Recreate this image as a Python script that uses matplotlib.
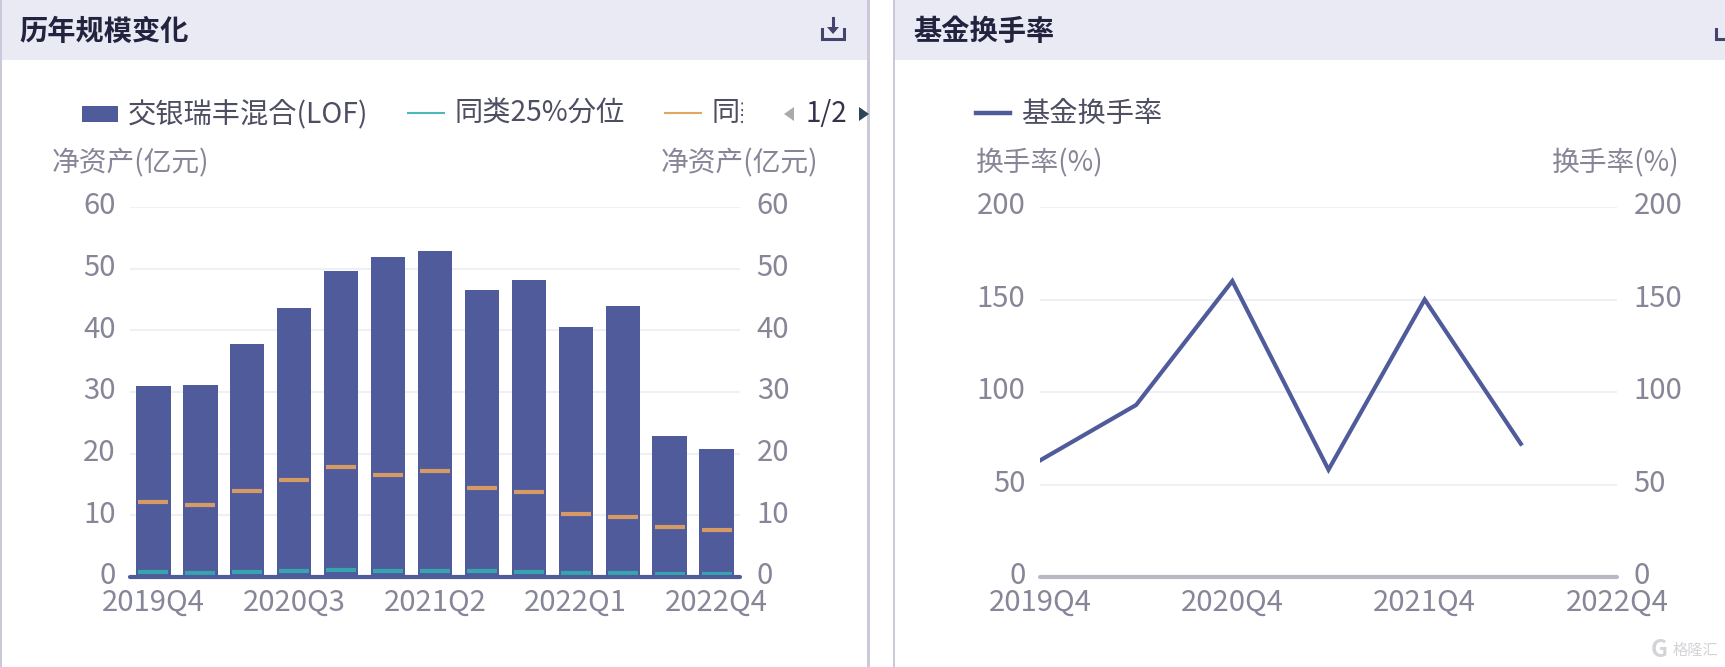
import matplotlib
matplotlib.use("Agg")
import matplotlib.pyplot as plt
from matplotlib.patches import Rectangle, Polygon
from matplotlib.transforms import ScaledTranslation

# ttc里matplotlib只认第一个字形集，名字是JP
plt.rcParams['font.family'] = 'sans-serif'
plt.rcParams['font.sans-serif'] = ['Noto Sans CJK JP', 'Noto Sans CJK SC', 'DejaVu Sans']
plt.rcParams['axes.unicode_minus'] = False

# 历年规模变化
quarters = ["2019Q4", "2020Q1", "2020Q2", "2020Q3", "2020Q4", "2021Q1", "2021Q2",
            "2021Q3", "2021Q4", "2022Q1", "2022Q2", "2022Q3", "2022Q4"]
fund_size = [31.0, 31.2, 37.8, 43.7, 49.6, 51.9, 52.8, 46.6, 48.2, 40.5, 43.9, 22.9, 20.8]
peer_median = [12.2, 11.6, 13.9, 15.7, 17.8, 16.5, 17.2, 14.4, 13.8, 10.2, 9.7, 8.1, 7.6]
peer_q25 = [0.8, 0.7, 0.8, 1.0, 1.1, 0.9, 1.0, 0.9, 0.8, 0.6, 0.6, 0.5, 0.5]
size_ticks = [0, 10, 20, 30, 40, 50, 60]

# 基金换手率
half_years = ["2019Q4", "2020Q2", "2020Q4", "2021Q2", "2021Q4", "2022Q2", "2022Q4"]
turnover = [63, 93, 160, 58, 150, 72]
turnover_ticks = [0, 50, 100, 150, 200]

W, H = 1725, 667
BLUE = "#4f5b9a"
TEAL = "#37a5b0"
ORANGE = "#d59a66"
GRID = "#eef0f6"
TICK_COLOR = "#868698"
LEGEND_COLOR = "#4e4e62"
TITLE_COLOR = "#23233f"
HEADER = "#e9eaf4"
BORDER = "#c9c9d9"
TICK_SIZE = 21

fig = plt.figure(figsize=(W / 100, H / 100), dpi=100, facecolor="white")


def px_axes(x0, x1, y0, y1):
    # 像素坐标转成figure坐标
    return fig.add_axes([x0 / W, 1 - y1 / H, (x1 - x0) / W, (y1 - y0) / H])


def lift_labels(axis_obj):
    # y轴数字比网格线略高一点
    up = ScaledTranslation(0, 3 / 72, fig.dpi_scale_trans)
    for label in axis_obj.get_ticklabels():
        label.set_transform(label.get_transform() + up)


def style_value_axes(ax, ticks, base_color):
    ax.set_ylim(ticks[0], ticks[-1])
    ax.set_yticks(ticks)
    ax.grid(axis="y", color=GRID, lw=1.5)
    ax.set_axisbelow(True)
    ax.tick_params(axis="y", length=0, labelsize=TICK_SIZE, labelcolor=TICK_COLOR, pad=10.5)
    ax.tick_params(axis="x", length=0, labelsize=TICK_SIZE, labelcolor=TICK_COLOR, pad=8)
    for name in ["top", "left", "right"]:
        ax.spines[name].set_visible(False)
    ax.spines["bottom"].set_color(base_color)
    ax.spines["bottom"].set_linewidth(3)
    ax.spines["bottom"].set_capstyle("round")
    ax.spines["bottom"].set_zorder(5)
    # 右边的刻度
    right = ax.twinx()
    right.set_ylim(ticks[0], ticks[-1])
    right.set_yticks(ticks)
    right.tick_params(axis="y", length=0, labelsize=TICK_SIZE, labelcolor=TICK_COLOR, pad=12)
    for spine in right.spines.values():
        spine.set_visible(False)
    lift_labels(ax.yaxis)
    lift_labels(right.yaxis)


# 面板背景、标题、图例都画在一个像素坐标的底层axes上
bg = fig.add_axes([0, 0, 1, 1], zorder=0)
bg.set_xlim(0, W)
bg.set_ylim(H, 0)
bg.axis("off")
bg.add_patch(Rectangle((0, 0), 868, 60, color=HEADER, lw=0))
bg.add_patch(Rectangle((893, 0), W - 893, 60, color=HEADER, lw=0))
bg.add_patch(Rectangle((0, 0), 2, H, color=BORDER, lw=0))
bg.add_patch(Rectangle((867, 0), 2.5, H, color=BORDER, lw=0))
bg.add_patch(Rectangle((893, 0), 2, H, color=BORDER, lw=0))

bg.text(19, 32, "历年规模变化", fontsize=20.3, fontweight="bold", color=TITLE_COLOR, va="center")
bg.text(913, 32, "基金换手率", fontsize=20.3, fontweight="bold", color=TITLE_COLOR, va="center")

# 下载图标
icon = "#44446e"
bg.plot([822, 822, 844, 844], [29, 39, 39, 29], color=icon, lw=2.2, solid_joinstyle="miter")
bg.plot([833, 833], [18, 30], color=icon, lw=2.2)
bg.add_patch(Polygon([[827, 27], [839, 27], [833, 34]], color=icon, lw=0))
bg.plot([1716, 1716, W + 5], [29, 39, 39], color=icon, lw=2.2, solid_joinstyle="miter")

# 左图图例
bg.add_patch(Rectangle((82, 106), 36, 16, color=BLUE, lw=0))
bg.text(128, 114, "交银瑞丰混合(LOF)", fontsize=20.3, color=LEGEND_COLOR, va="center")
bg.plot([408, 444], [113, 113], color="#4db8b8", lw=1.5)
bg.text(455, 114, "同类25%分位", fontsize=20.3, color=LEGEND_COLOR, va="center")
bg.plot([665, 701], [113, 113], color="#e0a860", lw=1.5)
clipped = bg.text(712, 114, "同类", fontsize=20.3, color=LEGEND_COLOR, va="center")
clipped.set_clip_path(Rectangle((700, 90), 43, 50, transform=bg.transData))
clipped.set_clip_on(True)
bg.add_patch(Polygon([[794, 107], [794, 121], [784, 114]], color="#aaaaaa", lw=0))
bg.text(806, 114, "1/2", fontsize=20, color="#33334a", va="center")
bg.add_patch(Polygon([[859, 107], [859, 121], [869, 114]], color="#2f4554", lw=0))

# 右图图例
bg.plot([976, 1010], [113, 113], color=BLUE, lw=3.2)
bg.text(1021, 114, "基金换手率", fontsize=20.3, color=LEGEND_COLOR, va="center")

# 坐标轴名称
bg.text(52, 163, "净资产(亿元)", fontsize=20, color=TICK_COLOR, va="center")
bg.text(661, 163, "净资产(亿元)", fontsize=20, color=TICK_COLOR, va="center")
bg.text(976, 163, "换手率(%)", fontsize=20, color=TICK_COLOR, va="center")
bg.text(1552, 163, "换手率(%)", fontsize=20, color=TICK_COLOR, va="center")

# 水印
bg.text(1673, 650, "格隆汇", fontsize=11, color="#d4d4d8", va="center", ha="left")
bg.text(1651, 650, "G", fontsize=17, color="#d4d4d8", va="center", ha="left", fontweight="bold")

# 左图：规模柱状图
ax1 = px_axes(130, 740, 207, 577)
ax1.patch.set_alpha(0)
positions = list(range(len(quarters)))
ax1.bar(positions, fund_size, width=0.73, color=BLUE, lw=0, zorder=2)
ax1.hlines(peer_median, [p - 0.32 for p in positions], [p + 0.32 for p in positions],
           color=ORANGE, lw=3, zorder=3)
ax1.hlines(peer_q25, [p - 0.32 for p in positions], [p + 0.32 for p in positions],
           color=TEAL, lw=3, zorder=3)
ax1.set_xlim(-0.5, len(quarters) - 0.5)
ax1.set_xticks(positions[::3])
ax1.set_xticklabels(quarters[::3])
style_value_axes(ax1, size_ticks, BLUE)

# 右图：换手率折线
ax2 = px_axes(1040, 1617, 207, 577)
ax2.patch.set_alpha(0)
ax2.plot(range(len(turnover)), turnover, color=BLUE, lw=3, zorder=3, solid_joinstyle="miter")
ax2.set_xlim(0, len(half_years) - 1)
ax2.set_xticks(range(0, len(half_years), 2))
ax2.set_xticklabels(half_years[::2])
style_value_axes(ax2, turnover_ticks, "#b9b9c6")

fig.savefig("out.png", dpi=100)
